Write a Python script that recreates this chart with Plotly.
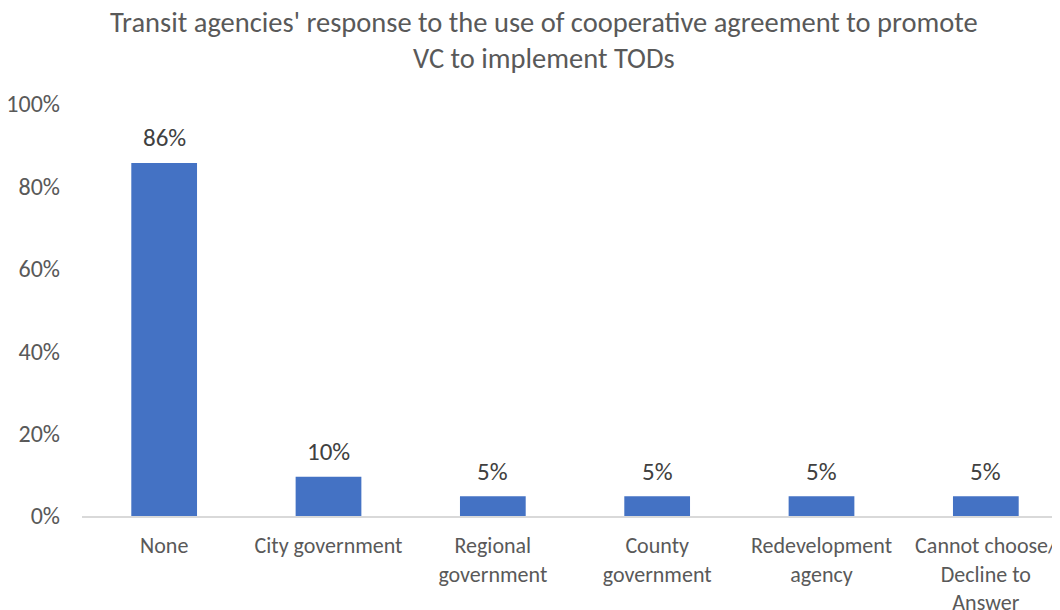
import plotly.graph_objects as go

categories = ["None", "City government", "Regional<br>government", "County<br>government",
              "Redevelopment<br>agency", "Cannot choose/<br>Decline to<br>Answer"]
values = [85.7, 9.5, 4.8, 4.8, 4.8, 4.8]
labels = ["86%", "10%", "5%", "5%", "5%", "5%"]
y_ticks = [0, 20, 40, 60, 80, 100]
y_tick_text = ["0%", "20%", "40%", "60%", "80%", "100%"]
title_lines = ["Transit agencies' response to the use of cooperative agreement to promote",
               "VC to implement TODs"]

font_family = "Carlito, Liberation Sans, Open Sans, sans-serif"
grey = "#595959"

fig = go.Figure(go.Bar(
    x=list(range(len(categories))), y=values, width=0.4,
    marker=dict(color="#4472C4", line=dict(width=0)),
))
for i, (v, lab) in enumerate(zip(values, labels)):
    fig.add_annotation(x=i, y=v, text=lab, showarrow=False, yanchor="middle", yshift=25,
                       font=dict(size=25, color="#404040", family=font_family))

fig.update_layout(
    width=1060, height=610,
    margin=dict(l=74, r=0, t=96, b=102),
    paper_bgcolor="white", plot_bgcolor="white",
    showlegend=False,
    font=dict(family=font_family, color=grey),
)
# title as two centered lines (positions relative to plot area)
for line, ypx in zip(title_lines, [22, 58]):
    fig.add_annotation(text=line, xref="paper", yref="paper",
                       x=(544 - 82) / 986, y=(516 - ypx) / 412,
                       xanchor="center", yanchor="middle", showarrow=False,
                       font=dict(size=28.5, color=grey, family=font_family))

fig.update_xaxes(
    range=[-0.5, 5.5], tickvals=list(range(len(categories))), ticktext=categories,
    showgrid=False, zeroline=False, showline=True, linecolor="#d9d9d9", linewidth=1.5,
    ticks="", automargin=False, ticklabelstandoff=9, ticklabeloverflow="allow",
    tickfont=dict(size=22, color=grey, family=font_family),
)
fig.update_yaxes(
    range=[0, 100], tickvals=y_ticks, ticktext=y_tick_text,
    showgrid=False, zeroline=False, showline=False, ticks="",
    automargin=False, ticklabelstandoff=21,
    tickfont=dict(size=24, color=grey, family=font_family),
)

fig.write_html("out.html")
